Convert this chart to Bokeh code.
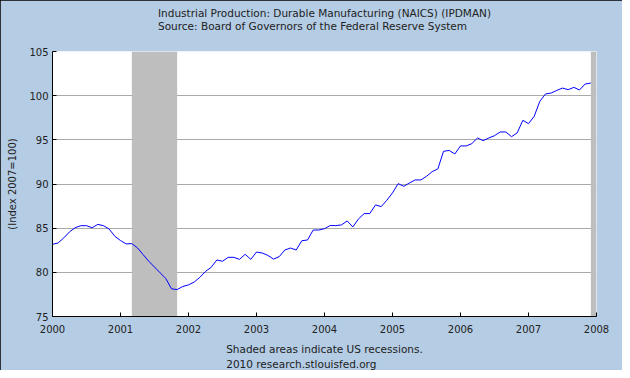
from bokeh.plotting import figure
from bokeh.models import Title, FixedTicker, Range1d
from bokeh.embed import file_html
from bokeh.resources import INLINE

# Monthly values, Jan 2000 .. Dec 2007 (Index 2007=100)
values = [
    83.17, 83.33, 83.90, 84.58, 85.05, 85.28, 85.28, 85.05, 85.43, 85.28, 84.90, 84.08,
    83.60, 83.22, 83.25, 82.77, 82.00, 81.25, 80.60, 79.94, 79.30, 78.13, 78.05, 78.40,
    78.58, 78.90, 79.43, 80.10, 80.57, 81.40, 81.25, 81.70, 81.70, 81.47, 82.04, 81.47,
    82.30, 82.19, 81.92, 81.50, 81.77, 82.53, 82.75, 82.53, 83.58, 83.66, 84.79, 84.79,
    84.94, 85.30, 85.29, 85.37, 85.82, 85.14, 86.05, 86.65, 86.65, 87.63, 87.44, 88.16,
    88.99, 90.04, 89.74, 90.12, 90.46, 90.46, 90.87, 91.40, 91.70, 93.70, 93.80, 93.40,
    94.31, 94.31, 94.57, 95.21, 94.91, 95.21, 95.47, 95.89, 95.89, 95.36, 95.78, 97.21,
    96.83, 97.66, 99.36, 100.19, 100.30, 100.60, 100.86, 100.68, 100.94, 100.64, 101.32, 101.43,
]
dates = [2000 + m / 12.0 for m in range(len(values))]

rec_start = [2001 + 2 / 12.0, 2007 + 11 / 12.0]
rec_end = [2001 + 10 / 12.0, 2008.0]

x_ticks = [2000, 2001, 2002, 2003, 2004, 2005, 2006, 2007, 2008]
y_ticks = [75, 80, 85, 90, 95, 100, 105]

title_lines = "Industrial Production: Durable Manufacturing (NAICS) (IPDMAN)\nSource: Board of Governors of the Federal Reserve System"
footer_lines = "Shaded areas indicate US recessions.\n2010 research.stlouisfed.org"

BG = "#b4cce4"
FONT = "DejaVu Sans"

p = figure(width=622, height=370, output_backend="svg", toolbar_location=None,
           x_range=Range1d(2000, 2008), y_range=Range1d(75, 105),
           background_fill_color="white", border_fill_color=BG,
           min_border_left=52, min_border_right=26, min_border_top=0, min_border_bottom=0)
p.outline_line_color = None
p.styles = {"outline": "1px solid #000000", "outline-offset": "-1px"}

p.quad(left=rec_start, right=rec_end, bottom=75, top=105,
       fill_color="#bebebe", line_color=None)
p.line(dates, values, line_color="#0000ff", line_width=1)

p.xaxis.ticker = FixedTicker(ticks=x_ticks)
p.yaxis.ticker = FixedTicker(ticks=y_ticks)
for ax in (p.xaxis[0], p.yaxis[0]):
    ax.axis_line_color = "black"
    ax.major_tick_line_color = "black"
    ax.major_tick_in = 4
    ax.major_tick_out = 0
    ax.minor_tick_line_color = None
    ax.major_label_text_font = FONT
    ax.major_label_text_font_size = "10px"
    ax.major_label_text_color = "#222222"
p.xaxis.major_label_standoff = 8
p.yaxis.major_label_standoff = 4
p.yaxis.axis_label = "(Index 2007=100)"
p.yaxis.axis_label_text_font = FONT
p.yaxis.axis_label_text_font_size = "10px"
p.yaxis.axis_label_text_font_style = "normal"
p.yaxis.axis_label_text_color = "#222222"
p.yaxis.axis_label_standoff = 8

p.xgrid.grid_line_color = None
p.ygrid.grid_line_color = "#aaaaaa"
p.ygrid.grid_line_width = 1

def txt(text, size, standoff, lh=1.25):
    return Title(text=text, align="center", text_font=FONT, text_font_size=size,
                 text_font_style="normal", text_color="#222222", text_line_height=lh,
                 standoff=standoff)

# above: spacer first (nearest the frame), then the two title lines
p.add_layout(txt(" ", "10px", 2), "above")
p.add_layout(txt(title_lines, "10.5px", 8, lh=1.15), "above")
# below: spacer after the axis, then the footer lines
p.add_layout(txt(" ", "3px", 0), "below")
p.add_layout(txt(footer_lines, "10.5px", 1), "below")

open("out.html", "w").write(file_html(p, INLINE))
